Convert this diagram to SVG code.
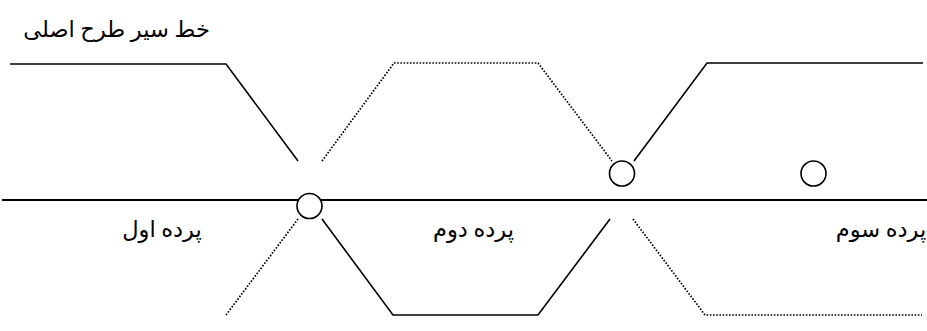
<svg xmlns="http://www.w3.org/2000/svg" width="927" height="331" viewBox="0 0 927 331">
<style>
.bg{fill:#ffffff}
.solid{fill:none;stroke:#000;stroke-width:1.6;stroke-linejoin:miter}
.dot{fill:none;stroke:#000;stroke-width:1.7;stroke-dasharray:1.6 1.6}
.base{fill:none;stroke:#000;stroke-width:2.2}
.node{fill:#fff;stroke:#000;stroke-width:1.6}
.lbl{font-family:"Liberation Serif","DejaVu Sans",serif;font-size:22.5px;fill:#000;text-anchor:middle}
</style>
<rect class="bg" x="0" y="0" width="927" height="331"/>
<g id="title"><text class="lbl" x="116.5" y="37" direction="rtl">خط سیر طرح اصلی</text></g>
<g id="connectors">
<line class="base" x1="2" y1="200" x2="927" y2="200"/>
<polyline class="solid" points="10,64 226,64 298,161"/>
<polyline class="dot" points="322,161 394,63 538,63 612,161"/>
<polyline class="solid" points="634,161 707,63 923,63"/>
<polyline class="dot" points="298,219 226,315"/>
<polyline class="solid" points="322,219 393,315 538,315 610,219"/>
<polyline class="dot" points="633,219 705,315 922,315"/>
</g>
<g id="node1"><circle class="node" cx="309.5" cy="206" r="12.5"/></g>
<g id="node2"><circle class="node" cx="622" cy="173.5" r="12.5"/></g>
<g id="node3"><circle class="node" cx="813.5" cy="173.5" r="12.5"/></g>
<g id="label1"><text class="lbl" x="162" y="237" direction="rtl">پرده اول</text></g>
<g id="label2"><text class="lbl" x="473.5" y="237" direction="rtl">پرده دوم</text></g>
<g id="label3"><text class="lbl" x="881" y="237" direction="rtl">پرده سوم</text></g>
</svg>
